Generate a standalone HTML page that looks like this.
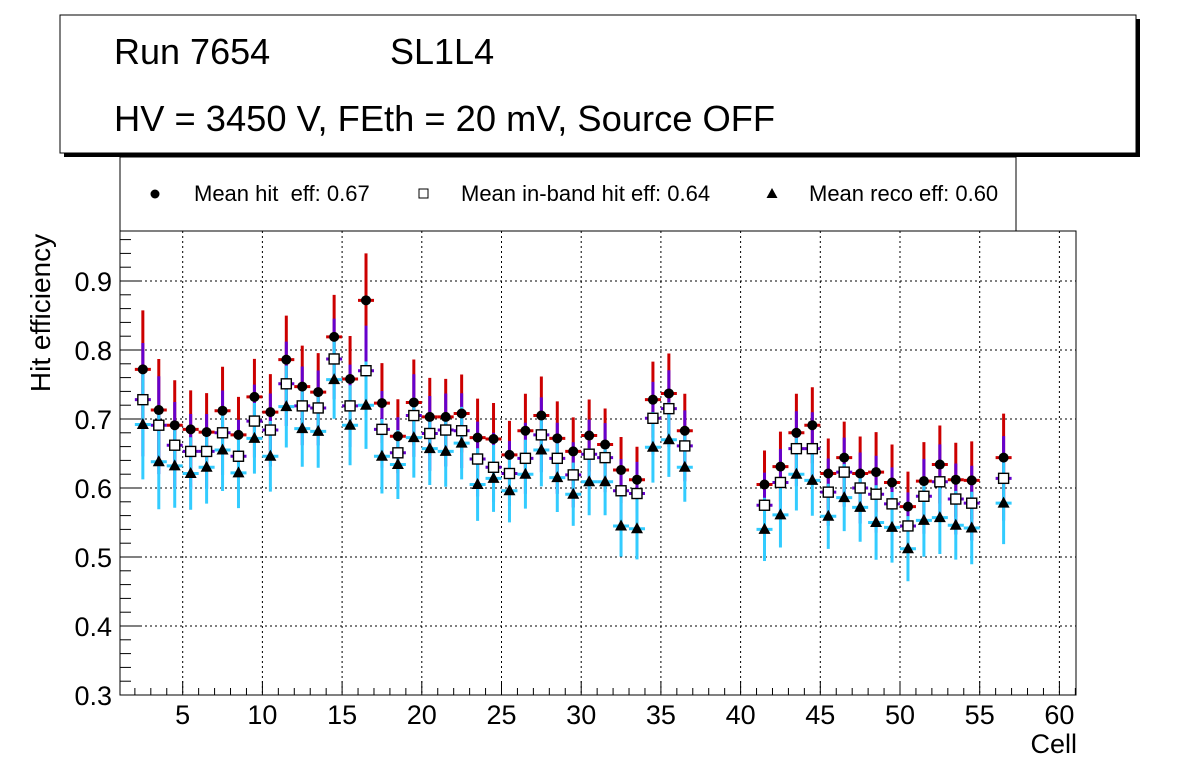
<!DOCTYPE html><html><head><meta charset="utf-8"><style>body{margin:0;background:#fff}svg{display:block}text{font-family:"Liberation Sans",sans-serif}</style></head><body>
<svg id="s" width="1196" height="772" xmlns="http://www.w3.org/2000/svg">
<rect width="1196" height="772" fill="#fff"/>
<rect x="64" y="19" width="1076" height="138" fill="#000"/>
<rect x="60" y="15" width="1076" height="138" fill="#fff" stroke="#000" stroke-width="1"/>
<text x="114" y="64" font-size="36">Run 7654</text>
<text x="390" y="64" font-size="36">SL1L4</text>
<text x="114" y="131" font-size="36.3">HV = 3450 V, FEth = 20 mV, Source OFF</text>
<rect x="120" y="157" width="896" height="74" fill="#fff" stroke="#000"/>
<circle cx="155" cy="194" r="4.5" fill="#000"/>
<text x="194" y="201" font-size="22" xml:space="preserve">Mean hit  eff: 0.67</text>
<rect x="419" y="189" width="9" height="9" fill="#fff" stroke="#000"/>
<text x="461" y="201" font-size="22">Mean in-band hit eff: 0.64</text>
<polygon points="772,188 777.5,198 766.5,198" fill="#000"/>
<text x="809" y="201" font-size="22">Mean reco eff: 0.60</text>
<g id="g"></g>
<rect x="120" y="231" width="956" height="464" fill="none" stroke="#000"/>
<text transform="translate(50,313) rotate(-90)" font-size="28" text-anchor="middle">Hit efficiency</text>
<text x="1077" y="753" font-size="27" text-anchor="end">Cell</text>
</svg>
<script>
const g=document.getElementById('g');let h='';
const X=c=>103+15.94*c, Y=v=>695-690*(v-0.3);
for(let v=0.3;v<0.99;v+=0.1){const y=Y(v);if(v>0.35)h+=`<line x1="120" x2="1076" y1="${y}" y2="${y}" stroke="#000" stroke-dasharray="2,3"/>`;
h+=`<line x1="120" x2="142" y1="${y}" y2="${y}" stroke="#000"/><text x="112" y="${y+10}" font-size="27" text-anchor="end">${v.toFixed(1)}</text>`;
for(let k=1;k<5;k++){const yy=Y(v+k*0.02);if(yy>231)h+=`<line x1="120" x2="131" y1="${yy}" y2="${yy}" stroke="#000"/>`;}}
for(let c=2;c<=61;c++){const x=X(c);if(c%5==0){h+=`<line x1="${x}" x2="${x}" y1="231" y2="695" stroke="#000" stroke-dasharray="2,3"/><line x1="${x}" x2="${x}" y1="695" y2="681" stroke="#000"/><text x="${x}" y="724" font-size="27" text-anchor="middle">${c}</text>`;}else h+=`<line x1="${x}" x2="${x}" y1="695" y2="688" stroke="#000"/>`;}
const cells=[2,3,4,5,6,7,8,9,10,11,12,13,14,15,16,17,18,19,20,21,22,23,24,25,26,27,28,29,30,31,32,33,34,35,36,41,42,43,44,45,46,47,48,49,50,51,52,53,54,56];
const H=[.772,.713,.691,.685,.681,.712,.677,.732,.71,.786,.747,.739,.819,.758,.872,.723,.675,.724,.703,.703,.708,.673,.671,.648,.683,.705,.672,.653,.676,.663,.626,.612,.728,.737,.683,.605,.631,.680,.691,.621,.644,.621,.623,.608,.573,.610,.634,.612,.611,.644];
const I=[.728,.691,.662,.653,.653,.680,.646,.697,.684,.751,.719,.716,.787,.719,.770,.685,.651,.705,.679,.684,.683,.642,.630,.621,.643,.677,.643,.619,.649,.644,.596,.592,.701,.715,.661,.575,.608,.657,.657,.594,.623,.600,.591,.577,.545,.588,.609,.584,.578,.614];
const R=[.692,.638,.632,.621,.630,.655,.622,.672,.646,.718,.686,.682,.757,.691,.720,.646,.634,.673,.657,.653,.665,.605,.614,.596,.620,.655,.615,.591,.609,.609,.545,.541,.659,.670,.630,.540,.561,.620,.611,.559,.586,.572,.550,.543,.512,.553,.557,.546,.542,.578];
const E=[59,51,45,39,39,44,38,38,38,44,41,39,42,43,47,40,37,43,39,38,39,39,36,34,37,39,37,34,36,36,33,33,38,40,37,34,35,39,38,35,36,37,40,38,35,39,39,37,39,44];
const sets=[[H,'#cc0000',1],[I,'#6600cc',0.96],[R,'#33ccff',0.93]];
let m='';
sets.forEach(([d,col,f])=>{cells.forEach((c,i)=>{const x=X(c+0.5),y=Y(d[i]),e=E[i]*f;
h+=`<line x1="${x}" x2="${x}" y1="${y-e}" y2="${y+e}" stroke="${col}" stroke-width="3"/><line x1="${x-8}" x2="${x+8}" y1="${y}" y2="${y}" stroke="${col}" stroke-width="3"/>`;});});
cells.forEach((c,i)=>{const x=X(c+0.5);let y=Y(H[i]);m+=`<circle cx="${x}" cy="${y}" r="5" fill="#000"/>`;
y=Y(I[i]);m+=`<rect x="${x-5}" y="${y-5}" width="10" height="10" fill="#fff" stroke="#000" stroke-width="1.4"/>`;
y=Y(R[i]);m+=`<polygon points="${x},${y-6.5} ${x+6},${y+4.5} ${x-6},${y+4.5}" fill="#000"/>`;});
g.innerHTML=h+m;
</script></body></html>
